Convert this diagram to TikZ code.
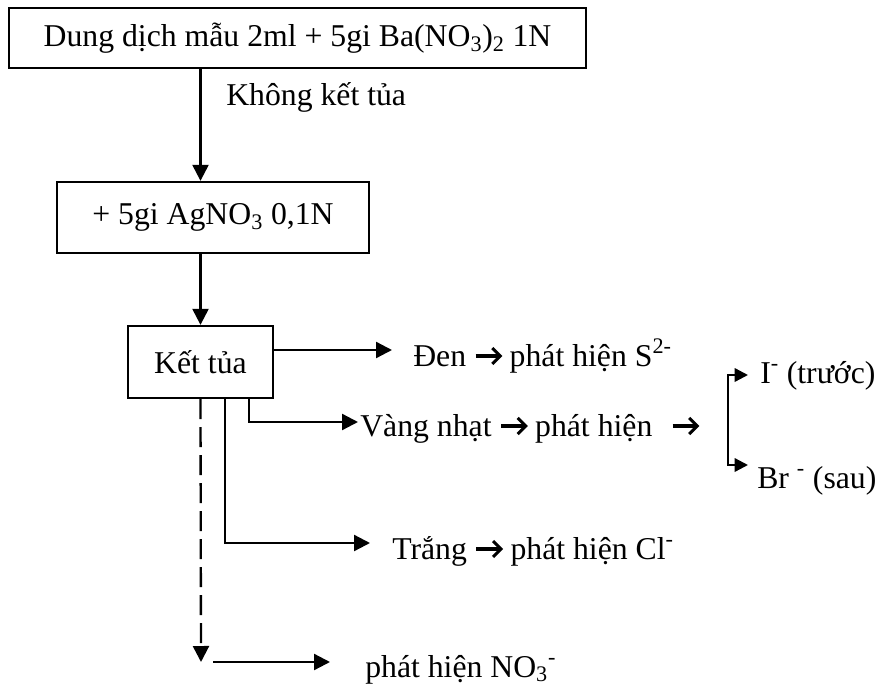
\documentclass[tikz,border=0pt]{standalone}
\usepackage{fontspec}
\setmainfont{Liberation Serif}
\usetikzlibrary{arrows.meta,calc}
\newcommand{\arr}{\tikz[baseline=-7.5pt, line width=2.3pt]{\draw (0pt,0pt) -- (18pt,0pt); \draw[miter limit=6] (12.5pt,6pt) -- (18.5pt,0pt) -- (12.5pt,-6pt);}}
\tikzset{
  box/.style={draw, line width=1.75pt, inner sep=0pt, font=\fontsize{23.8pt}{28pt}\selectfont},
  txt/.style={anchor=base west, inner sep=0pt, font=\fontsize{23.8pt}{28pt}\selectfont},
  flow/.style={line width=1.75pt, -{Triangle[length=12pt,width=12pt]}}
}
\begin{document}
\begin{tikzpicture}[x=0.75pt, y=-0.75pt]
\useasboundingbox (0,0) rectangle (882,685);
% boxes
\node[box, minimum width=432.75pt, minimum height=45pt] (mau) at (297.5,38) {Dung dịch mẫu 2ml + 5gi Ba(NO\textsubscript{3})\textsubscript{2} 1N};
\node[box, minimum width=234pt, minimum height=53.25pt] (agno) at (213,217.5) {+ 5gi AgNO\textsubscript{3} 0,1N};
\node[box, minimum width=108.75pt, minimum height=54pt] (kettua) at (200.5,362) {Kết tủa};
% labels
\node[txt] (khong) at (226,106) {Không kết tủa};
\node[txt] (den) at (413,366) {Đen \arr\ phát hiện S\textsuperscript{2-}};
\node[txt] (vang) at (360,436) {Vàng nhạt \arr\ phát hiện\hspace{14pt}\arr};
\node[txt] (iod) at (760,383) {I\textsuperscript{-} (trước)};
\node[txt] (brom) at (757,488) {Br \textsuperscript{-} (sau)};
\node[txt] (trang) at (392,559) {Trắng \arr\ phát hiện Cl\textsuperscript{-}};
\node[txt] (nitrat) at (365,677) {phát hiện NO\textsubscript{3}\textsuperscript{-}};
% free ends
\coordinate (denEnd) at (392,350);
\coordinate (vangEnd) at (358,422);
\coordinate (trangEnd) at (370,543);
\coordinate (dashEnd) at (201,662);
\coordinate (no3A) at (213,662);
\coordinate (no3B) at (330,662);
\coordinate (iEnd) at (748,375);
\coordinate (brEnd) at (748,465);
% connectors
\draw[flow] (mau.south -| kettua) -- (agno.north -| kettua);
\draw[flow] (agno.south -| kettua) -- (kettua.north);
\draw[flow] (kettua.east |- denEnd) -- (denEnd);
\draw[flow] ($(kettua.south)+(48.5,0)$) |- (vangEnd);
\draw[flow] ($(kettua.south)+(24.5,0)$) |- (trangEnd);
\draw[flow, dash pattern=on 15pt off 6pt] (kettua.south) -- (dashEnd);
\draw[flow] (no3A) -- (no3B);
\draw[line width=1.75pt, {Triangle[length=10pt,width=10pt]}-{Triangle[length=10pt,width=10pt]}] (iEnd) -- ++(-20,0) |- (brEnd);
\end{tikzpicture}
\end{document}
